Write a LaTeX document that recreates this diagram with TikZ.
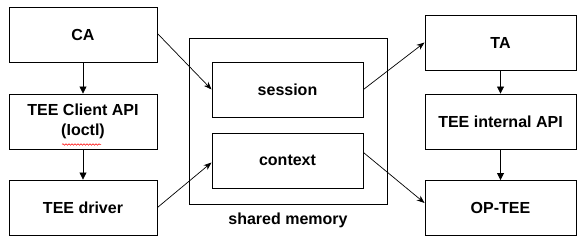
\documentclass[tikz,border=0pt]{standalone}
\usepackage{fontspec}
\setmainfont{Liberation Sans}
\usetikzlibrary{arrows.meta,calc,decorations.pathmorphing}
\begin{document}
\begin{tikzpicture}[x=1pt,y=-1pt,
  box/.style={draw=black,line width=0.9pt,rectangle,inner sep=0pt,align=center,
    font=\fontsize{16}{20}\selectfont\bfseries},
  lbox/.style={box,minimum width=148pt,minimum height=55pt},
  rbox/.style={box,minimum width=151pt,minimum height=55pt},
  varr/.style={draw=black,line width=0.8pt,-{Triangle[length=7pt,width=7pt]}},
  darr/.style={draw=black,line width=0.7pt,-{Stealth[length=8pt,width=6pt]}}]
\useasboundingbox[fill=white] (0,0) rectangle (588,251);
% left column
\node[lbox] (ca) at (83,34.5) {CA};
\node[lbox] (client) at (83,121.5) {TEE Client API\\(Ioctl)};
\node[lbox] (driver) at (83,207.5) {TEE driver};
% shared memory
\node[draw=black,line width=0.9pt,minimum width=198pt,minimum height=166pt,inner sep=0pt] (shm) at (288,121) {};
\node[font=\fontsize{16}{20}\selectfont\bfseries] (shmlabel) at (288,220) {shared memory};
\node[rbox] (session) at (287.5,89.5) {session};
\node[rbox] (context) at (287.5,160.5) {context};
% right column
\node[rbox] (ta) at (500.5,42.5) {TA};
\node[rbox] (internal) at (500.5,121.5) {TEE internal API};
\node[rbox] (optee) at (500.5,208) {OP-TEE};
% spell-check squiggle
\coordinate (sqa) at (62,144.5);
\coordinate (sqb) at (101,144.5);
\draw[red,line width=0.5pt,decorate,decoration={snake,amplitude=0.8pt,segment length=3pt}] (sqa) -- (sqb);
% arrows
\draw[varr] (ca) -- (client);
\draw[varr] (client) -- (driver);
\draw[varr] (ta) -- (internal);
\draw[varr] (internal) -- (optee);
\draw[darr] ($(ca.east)+(0,-1)$) -- (session.west);
\draw[darr] (driver.east) -- ($(context.west)+(0,2)$);
\draw[darr] (session.east) -- (ta.west);
\draw[darr] ($(context.east)+(0,-8)$) -- ($(optee.west)+(0,-5)$);
\end{tikzpicture}
\end{document}
